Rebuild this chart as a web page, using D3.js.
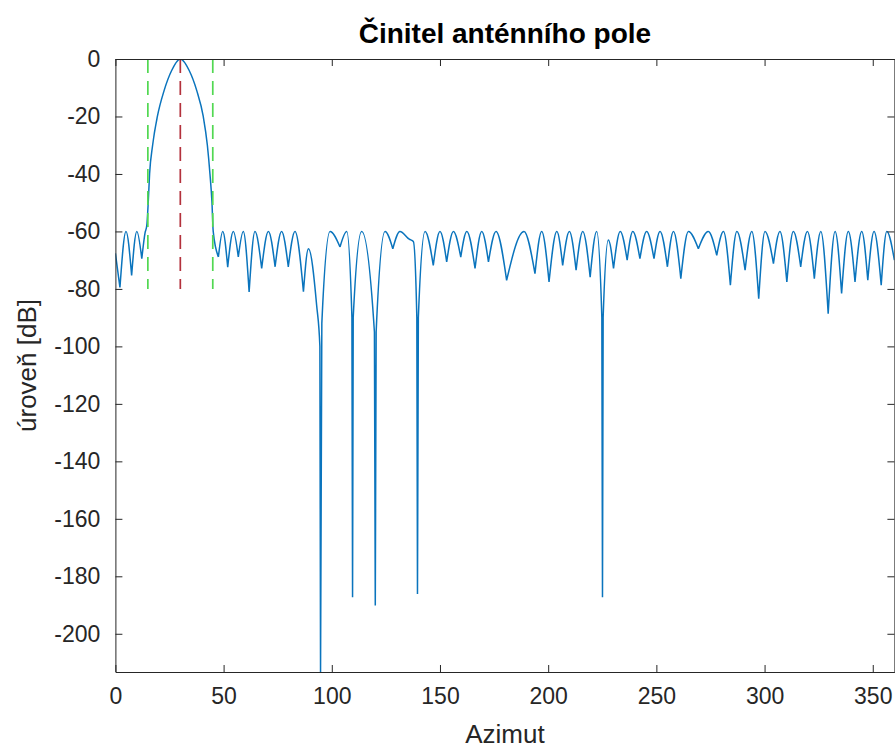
<!DOCTYPE html>
<html>
<head>
<meta charset="utf-8">
<script src="https://cdn.jsdelivr.net/npm/d3@7"></script>
<style>
  body { margin: 0; background: #fff; }
  text { font-family: "Liberation Sans", Arial, sans-serif; }
</style>
</head>
<body>
<svg id="chart"></svg>
<script>
// array factor: azimuth [deg] and level [dB]
const azimuth = [0, 2.1, 4.9, 7.5, 9.9, 12.2, 13.7, 14.5, 15.2, 15.8, 17.2, 19.4, 22.5, 26.0, 30.0,
  34.1, 37.6, 40.6, 42.5, 43.7, 44.6, 45.2, 47.6, 49.6, 51.9, 54.5, 56.8, 59.1, 61.8, 64.5, 67.6,
  70.7, 73.8, 76.8, 79.9, 83.0, 86.9, 89.2, 93.0, 94.5, 94.8, 95.4, 99.2, 103.8, 106.9, 109.3, 109.6,
  109.9, 113.8, 119.7, 120.1, 120.5, 124.6, 128.2, 131.5, 135.8, 137.7, 139.3, 139.6, 140.0, 143.1,
  146.9, 150.0, 153.1, 156.2, 159.6, 162.4, 166.2, 169.3, 172.4, 175.9, 180.8, 188.8, 193.9, 197.0,
  200.4, 204.0, 206.7, 209.8, 212.9, 216.0, 219.4, 222.4, 224.8, 225.1, 225.4, 227.8, 230.2, 233.3,
  236.5, 239.1, 242.4, 245.5, 248.9, 251.7, 255.1, 257.9, 261.3, 264.8, 269.4, 274.0, 277.9, 281.0,
  284.2, 287.2, 291.0, 294.1, 297.3, 300.2, 304.1, 307.1, 310.3, 313.3, 316.7, 319.8, 323.0, 326.0,
  329.4, 332.6, 335.6, 338.7, 341.8, 344.9, 347.7, 350.6, 353.9, 356.5, 360];
const level = [-67.6, -79.5, -60, -75.3, -60, -69.5, -60.5, -58, -49.5, -40, -30, -20, -11, -4, 0,
  -4, -11, -20, -30, -40, -49.5, -60, -68.9, -60, -72.4, -60, -68.9, -60, -81.1, -60, -72.9,
  -60, -72.3, -60, -72.3, -60, -81, -66, -85.7, -100, -213.3, -92, -60, -65.4, -60, -90, -187.3,
  -90, -60, -95, -190.2, -95, -60, -66, -60, -62.7, -63.5, -90, -186.2, -90, -60,
  -71.8, -60, -70.6, -60, -68.9, -60, -72.9, -60, -70.6, -60, -77, -60, -74.7, -60,
  -77.6, -60, -71.8, -60, -73.5, -60, -75.9, -60, -90, -187.3, -90, -63, -72.9, -60,
  -70, -60, -69.5, -60, -69.5, -60, -72.3, -60, -76.4, -60, -66, -60, -68.3, -60,
  -78.7, -60, -73.5, -60, -83.4, -60, -71.2, -60, -77.6, -60, -72.3, -60, -76.4, -60,
  -88.6, -60, -81.6, -60, -77.6, -60, -77, -60, -78.7, -60, -70];

// dashed markers: beam edges and steering direction
const markerAz = [15, 30, 45];
const markerColor = ["#52d852", "#b3313c", "#52d852"];
const markerFrom = 0;
const markerTo = -80;

const xTicks = [0, 50, 100, 150, 200, 250, 300, 350];
const yTicks = [0, -20, -40, -60, -80, -100, -120, -140, -160, -180, -200];

const width = 895;
const height = 751;
const margin = { top: 59, right: 0.6, bottom: 79, left: 115.4 };

const svg = d3.select("#chart")
  .attr("width", width)
  .attr("height", height);

svg.append("rect").attr("width", width).attr("height", height).attr("fill", "#fff");

const x = d3.scaleLinear().domain([0, 360]).range([margin.left, width - margin.right]);
const y = d3.scaleLinear().domain([-213.3, 0]).range([height - margin.bottom, margin.top]);

svg.append("clipPath")
  .attr("id", "plot-area")
  .append("rect")
  .attr("x", x(0)).attr("y", y(0))
  .attr("width", x(360) - x(0)).attr("height", y(-213.3) - y(0));

// split the curve at the nulls, each lobe is drawn smooth, nulls stay sharp
const points = azimuth.map((a, i) => [a, level[i]]);
const lobes = [];
let current = [points[0]];
for (let i = 1; i < points.length; i++) {
  current.push(points[i]);
  const isNull = i < points.length - 1 && points[i][1] < points[i - 1][1] && points[i][1] < points[i + 1][1];
  if (isNull) {
    lobes.push(current);
    current = [points[i]];
  }
}
lobes.push(current);

const line = d3.line()
  .x(d => x(d[0]))
  .y(d => y(d[1]))
  .curve(d3.curveMonotoneX);

svg.append("path")
  .attr("clip-path", "url(#plot-area)")
  .attr("d", lobes.map(l => line(l)).join(""))
  .attr("fill", "none")
  .attr("stroke", "#0a74bd")
  .attr("stroke-width", 1.5)
  .attr("stroke-linejoin", "round");

svg.append("g")
  .selectAll("line")
  .data(markerAz)
  .enter()
  .append("line")
  .attr("x1", d => x(d)).attr("x2", d => x(d))
  .attr("y1", y(markerFrom)).attr("y2", y(markerTo))
  .attr("stroke", (d, i) => markerColor[i])
  .attr("stroke-width", 1.7)
  .attr("stroke-dasharray", "14,8");

// axes, MATLAB style: box with inward ticks
const axisColor = "#262626";

function styleAxis(g) {
  g.select(".domain").attr("stroke", axisColor).attr("stroke-width", 1);
  g.selectAll(".tick line").attr("stroke", axisColor);
  g.selectAll(".tick text").attr("fill", axisColor).style("font-size", "23px")
    .style("font-family", '"Liberation Sans", Arial, sans-serif');
}

svg.append("g")
  .attr("transform", `translate(0,${y(-213.3)})`)
  .call(d3.axisBottom(x).tickValues(xTicks).tickSizeInner(-7).tickSizeOuter(0).tickPadding(16)
    .tickFormat(d => String(d)))
  .call(styleAxis);

svg.append("g")
  .attr("transform", `translate(0,${y(0)})`)
  .call(d3.axisTop(x).tickValues(xTicks).tickSizeInner(-7).tickSizeOuter(0).tickFormat(""))
  .call(styleAxis);

svg.append("g")
  .attr("transform", `translate(${x(0)},0)`)
  .call(d3.axisLeft(y).tickValues(yTicks).tickSizeInner(-7).tickSizeOuter(0).tickPadding(15)
    .tickFormat(d => String(d)))
  .call(styleAxis);

svg.append("g")
  .attr("transform", `translate(${x(360)},0)`)
  .call(d3.axisRight(y).tickValues(yTicks).tickSizeInner(-7).tickSizeOuter(0).tickFormat(""))
  .call(styleAxis);

svg.append("text")
  .attr("x", (x(0) + x(360)) / 2)
  .attr("y", 43)
  .attr("text-anchor", "middle")
  .attr("font-weight", "bold")
  .attr("font-size", 28)
  .attr("fill", "#000")
  .text("Činitel anténního pole");

svg.append("text")
  .attr("x", (x(0) + x(360)) / 2)
  .attr("y", 743)
  .attr("text-anchor", "middle")
  .attr("font-size", 26)
  .attr("fill", axisColor)
  .text("Azimut");

svg.append("text")
  .attr("transform", `translate(36,${(y(0) + y(-213.3)) / 2}) rotate(-90)`)
  .attr("text-anchor", "middle")
  .attr("font-size", 26)
  .attr("fill", axisColor)
  .text("úroveň [dB]");
</script>
</body>
</html>
